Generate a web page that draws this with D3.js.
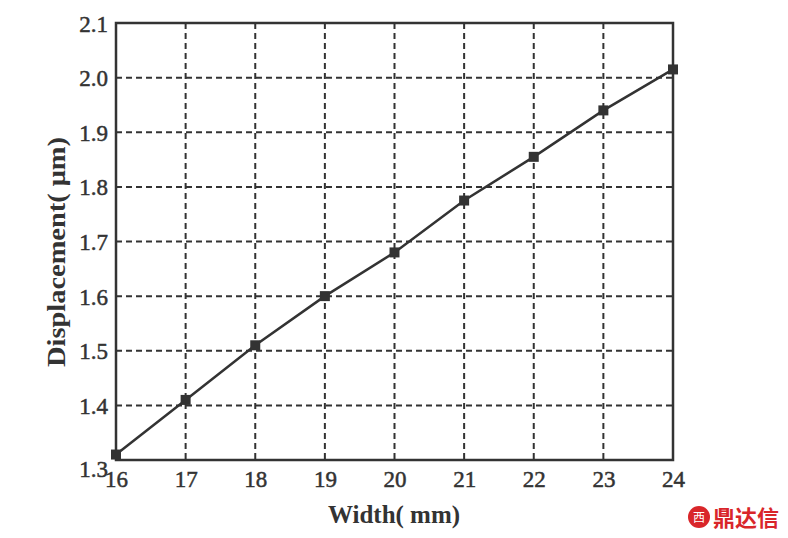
<!DOCTYPE html>
<html>
<head>
<meta charset="utf-8">
<script src="https://cdn.jsdelivr.net/npm/d3@7"></script>
<style>
body{margin:0;background:#fff;}
svg{display:block;}
</style>
</head>
<body>
<svg id="chart" width="788" height="538"></svg>
<script>
const widths = [16, 17, 18, 19, 20, 21, 22, 23, 24];
const displacement = [1.31, 1.41, 1.51, 1.60, 1.68, 1.775, 1.855, 1.94, 2.015];
const xTicks = [16, 17, 18, 19, 20, 21, 22, 23, 24];
const yTicks = [1.3, 1.4, 1.5, 1.6, 1.7, 1.8, 1.9, 2.0, 2.1];
const xTitle = "Width( mm)";
const yTitle = "Displacement( μm)";

const svg = d3.select("#chart");
const m = {left:116, right:673, top:23, bottom:460};
const x = d3.scaleLinear().domain([16,24]).range([m.left, m.right]);
const y = d3.scaleLinear().domain([1.3,2.1]).range([m.bottom, m.top]);
const ink = "#333";
const font = "'Liberation Serif','Times New Roman',serif";

// grid
const g = svg.append("g");
g.selectAll(".vg").data(xTicks.slice(1,-1)).enter().append("line")
  .attr("x1", d=>x(d)).attr("x2", d=>x(d)).attr("y1", m.top).attr("y2", m.bottom)
  .attr("stroke", ink).attr("stroke-width", 2).attr("stroke-dasharray", "6,4");
g.selectAll(".hg").data(yTicks.slice(1,-1)).enter().append("line")
  .attr("y1", d=>y(d)).attr("y2", d=>y(d)).attr("x1", m.left).attr("x2", m.right)
  .attr("stroke", ink).attr("stroke-width", 2).attr("stroke-dasharray", "6,4");

// frame
svg.append("rect").attr("x", m.left).attr("y", m.top)
  .attr("width", m.right-m.left).attr("height", m.bottom-m.top)
  .attr("fill","none").attr("stroke", ink).attr("stroke-width", 2.5);

// axes labels
const xa = svg.append("g").attr("transform", `translate(0,${m.bottom})`)
  .call(d3.axisBottom(x).tickValues(xTicks).tickSize(0).tickPadding(11).tickFormat(d3.format("d")));
xa.select(".domain").remove();
xa.selectAll("text").attr("font-family", font).attr("font-size", 23).attr("fill", ink)
  .attr("stroke", ink).attr("stroke-width", 0.5);

const ya = svg.append("g").attr("transform", `translate(${m.left},0)`)
  .call(d3.axisLeft(y).tickValues(yTicks).tickSize(0).tickPadding(8).tickFormat(d3.format(".1f")));
ya.select(".domain").remove();
ya.selectAll("text").attr("font-family", font).attr("font-size", 23).attr("fill", ink)
  .attr("stroke", ink).attr("stroke-width", 0.5)
  .attr("dy", d => d === 1.3 ? "0.7em" : "0.35em");

// line
svg.append("path").datum(widths.map((w,i)=>[w, displacement[i]]))
  .attr("fill","none").attr("stroke", ink).attr("stroke-width", 2.5)
  .attr("d", d3.line().x(d=>x(d[0])).y(d=>y(d[1])));

// markers
svg.selectAll(".mk").data(widths.map((w,i)=>[w, displacement[i]])).enter().append("rect")
  .attr("x", d=>x(d[0])-5).attr("y", d=>y(d[1])-5).attr("width", 10).attr("height", 10)
  .attr("fill", ink);

// titles
svg.append("text").attr("x", 394).attr("y", 523)
  .attr("text-anchor","middle").attr("font-family", font).attr("font-weight","bold")
  .attr("font-size", 25).attr("fill", ink)
  .text(xTitle);
svg.append("text").attr("transform", `translate(65,252) rotate(-90)`)
  .attr("text-anchor","middle").attr("font-family", font).attr("font-weight","bold")
  .attr("font-size", 25).attr("fill", ink)
  .attr("textLength", 230).attr("lengthAdjust", "spacingAndGlyphs")
  .text(yTitle);

// watermark
svg.append("circle").attr("cx", 699).attr("cy", 517).attr("r", 11).attr("fill", "#d9262a");
svg.append("text").attr("x", 699).attr("y", 522).attr("text-anchor","middle")
  .attr("font-family","'Noto Sans CJK SC'").attr("font-size", 12).attr("fill","#fff").text("西");
svg.append("text").attr("x", 713).attr("y", 526)
  .attr("font-family","'Noto Sans CJK SC'").attr("font-weight","bold").attr("font-size", 22).attr("fill","#d9262a")
  .text("鼎达信");
</script>
</body>
</html>
